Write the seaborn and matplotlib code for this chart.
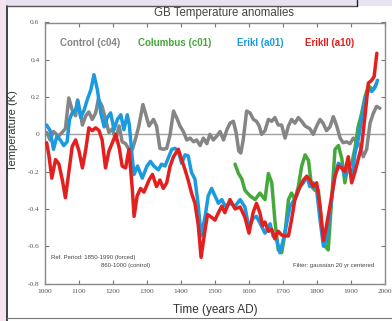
import matplotlib
matplotlib.use("Agg")
import matplotlib.pyplot as plt
import seaborn as sns
import pandas as pd
from matplotlib.patches import Rectangle
from matplotlib.lines import Line2D

# ---------------- data ----------------
series_names = ["Control (c04)", "Columbus (c01)", "ErikI (a01)", "ErikII (a10)"]
series_colors = ["#858585", "#45a83a", "#1a9be0", "#e3201e"]

control_years = [1005, 1015, 1025, 1040, 1050, 1060, 1070, 1080, 1090, 1096, 1105, 1110, 1120, 1129,
                 1139, 1149, 1157, 1168, 1178, 1188, 1198, 1208, 1218, 1227, 1237, 1247, 1257, 1267,
                 1276, 1288, 1296, 1306, 1319, 1328, 1338, 1348, 1358, 1368, 1378, 1387, 1397, 1407,
                 1417, 1427, 1437, 1446, 1456, 1466, 1476, 1485, 1495, 1505, 1515, 1525, 1535, 1544,
                 1554, 1562, 1570, 1576, 1583, 1593, 1603, 1613, 1622, 1630, 1637, 1647, 1657, 1667,
                 1676, 1686, 1696, 1706, 1716, 1725, 1735, 1745, 1755, 1765, 1779, 1789, 1799, 1809,
                 1818, 1828, 1838, 1848, 1858, 1868, 1877, 1887, 1897, 1907, 1917, 1926, 1936, 1946,
                 1956, 1965, 1975, 1985]
control_vals = [0.01, -0.03, 0.015, -0.01, 0.01, 0.03, 0.195, 0.13, 0.10, 0.185, 0.105, 0.05, 0.10, 0.12,
                0.08, 0.115, 0.19, 0.15, 0.08, 0.01, 0.03, -0.03, 0.045, -0.04, -0.05, -0.08, -0.08, -0.02,
                0.045, 0.16, 0.11, 0.045, 0.08, 0.045, -0.075, -0.08, -0.075, 0.0, 0.125, 0.09, 0.045, 0.015,
                -0.03, -0.02, -0.04, -0.03, -0.06, -0.02, -0.05, 0.0, -0.03, -0.01, 0.015, -0.03, 0.025, 0.06,
                0.07, 0.01, -0.09, -0.10, -0.03, 0.125, 0.115, 0.08, 0.07, 0.045, 0.0, 0.02, 0.08, 0.07,
                0.09, 0.05, 0.05, -0.02, 0.045, 0.08, 0.06, 0.09, 0.07, 0.045, 0.03, 0.0, 0.045, 0.08,
                0.06, 0.02, 0.04, 0.095, 0.045, -0.02, -0.045, -0.04, -0.05, -0.02, -0.04, -0.06, -0.12, -0.08,
                0.06, 0.11, 0.15, 0.14]

columbus_years = [1559, 1569, 1579, 1588, 1603, 1618, 1632, 1647, 1657, 1667, 1676, 1686, 1696, 1706,
                  1716, 1725, 1735, 1745, 1755, 1765, 1775, 1784, 1794, 1804, 1814, 1824, 1833, 1843,
                  1853, 1863, 1873, 1882, 1892, 1902, 1912, 1921, 1931, 1941, 1951, 1965, 1975]
columbus_vals = [-0.16, -0.21, -0.24, -0.30, -0.33, -0.35, -0.315, -0.35, -0.21, -0.26, -0.46, -0.62, -0.635, -0.53,
                 -0.35, -0.315, -0.35, -0.28, -0.17, -0.11, -0.14, -0.28, -0.30, -0.30, -0.49, -0.60, -0.62, -0.35,
                 -0.08, -0.06, -0.13, -0.26, -0.155, -0.16, -0.07, 0.04, 0.11, 0.20, 0.26, 0.24, 0.27]

erik1_years = [1005, 1015, 1025, 1035, 1045, 1055, 1065, 1072, 1080, 1090, 1096, 1105, 1115, 1125, 1135,
               1144, 1154, 1164, 1174, 1183, 1193, 1203, 1213, 1223, 1232, 1242, 1248, 1257, 1262, 1272,
               1286, 1300, 1310, 1320, 1333, 1343, 1353, 1363, 1373, 1382, 1392, 1402, 1412, 1421, 1431,
               1441, 1451, 1459, 1471, 1480, 1490, 1500, 1510, 1520, 1530, 1544, 1559, 1574, 1588, 1600,
               1612, 1622, 1632, 1647, 1662, 1671, 1681, 1691, 1701, 1711, 1721, 1730, 1740, 1750, 1760,
               1770, 1779, 1789, 1799, 1809, 1819, 1828, 1838, 1853, 1863, 1873, 1882, 1892, 1902, 1912,
               1921, 1931, 1941, 1951, 1961, 1970, 1978]
erik1_vals = [0.05, 0.02, -0.08, -0.01, -0.03, -0.06, -0.04, 0.08, 0.115, 0.13, 0.18, 0.09, 0.13, 0.19, 0.24,
              0.32, 0.24, 0.115, 0.04, 0.09, 0.115, 0.025, 0.08, 0.105, 0.025, 0.105, 0.05, -0.135, -0.215, -0.17,
              -0.235, -0.17, -0.145, -0.17, -0.19, -0.16, -0.17, -0.125, -0.08, -0.075, -0.09, -0.155, -0.11, -0.115, -0.205,
              -0.24, -0.385, -0.545, -0.44, -0.33, -0.29, -0.33, -0.37, -0.35, -0.385, -0.37, -0.385, -0.35, -0.39, -0.50,
              -0.45, -0.44, -0.475, -0.53, -0.48, -0.545, -0.565, -0.635, -0.565, -0.475, -0.385, -0.36, -0.33, -0.28, -0.26,
              -0.225, -0.28, -0.26, -0.30, -0.46, -0.60, -0.565, -0.42, -0.21, -0.155, -0.17, -0.225, -0.155, -0.24, -0.10,
              -0.03, 0.08, 0.185, 0.24, 0.23, 0.25, 0.29]

erik2_years = [1005, 1012, 1020, 1031, 1041, 1051, 1060, 1071, 1080, 1090, 1100, 1110, 1120, 1129, 1139,
               1149, 1159, 1168, 1178, 1188, 1198, 1208, 1218, 1227, 1237, 1247, 1257, 1262, 1271, 1281,
               1291, 1306, 1316, 1328, 1338, 1348, 1358, 1368, 1378, 1392, 1402, 1412, 1421, 1431, 1441,
               1451, 1459, 1471, 1478, 1490, 1500, 1510, 1520, 1529, 1544, 1559, 1574, 1588, 1600, 1612,
               1622, 1632, 1640, 1647, 1657, 1667, 1676, 1686, 1696, 1706, 1716, 1725, 1735, 1745, 1760,
               1770, 1779, 1789, 1799, 1809, 1819, 1828, 1838, 1853, 1863, 1873, 1882, 1892, 1902, 1912,
               1921, 1931, 1941, 1951, 1961, 1968, 1976]
erik2_vals = [-0.045, -0.12, -0.235, -0.135, -0.16, -0.245, -0.34, -0.19, -0.065, -0.03, -0.09, -0.18, -0.08, 0.035, 0.02,
              0.035, 0.02, -0.03, -0.18, -0.09, -0.045, 0.0, -0.07, -0.17, -0.18, -0.08, -0.30, -0.44, -0.33, -0.29,
              -0.31, -0.245, -0.215, -0.28, -0.245, -0.29, -0.26, -0.17, -0.12, -0.08, -0.135, -0.19, -0.245, -0.315, -0.37,
              -0.49, -0.66, -0.51, -0.43, -0.445, -0.46, -0.42, -0.385, -0.42, -0.35, -0.40, -0.39, -0.445, -0.53, -0.42,
              -0.37, -0.42, -0.49, -0.47, -0.52, -0.51, -0.56, -0.52, -0.54, -0.545, -0.545, -0.46, -0.35, -0.30, -0.245,
              -0.225, -0.245, -0.28, -0.26, -0.385, -0.57, -0.49, -0.385, -0.225, -0.17, -0.18, -0.20, -0.12, -0.26, -0.20,
              -0.135, -0.065, 0.095, 0.275, 0.29, 0.31, 0.435]

x_ticks = [1000, 1100, 1200, 1300, 1400, 1500, 1600, 1700, 1800, 1900, 2000]
y_ticks = [-0.8, -0.6, -0.4, -0.2, 0, 0.2, 0.4, 0.6]
y_tick_labels = ["-0.8", "-0.6", "-0.4", "-0.2", "0", "0.2", "0.4", "0.6"]

# ---------------- build table ----------------
frames = []
for name, yrs, vals in zip(series_names,
                           [control_years, columbus_years, erik1_years, erik2_years],
                           [control_vals, columbus_vals, erik1_vals, erik2_vals]):
    frames.append(pd.DataFrame({"year": yrs, "temp": vals, "run": name}))
df = pd.concat(frames, ignore_index=True)

# ---------------- figure ----------------
sns.set_theme(style="white")
plt.rcParams["font.family"] = ["Liberation Sans", "DejaVu Sans"]

W, H = 392, 321
fig = plt.figure(figsize=(W / 100, H / 100), dpi=100)
fig.patch.set_facecolor("white")

# screenshot frame decorations
fig.patches.append(Rectangle((0, 1 - 6 / H), 1, 6 / H, transform=fig.transFigure,
                             facecolor="#e9e2f1", edgecolor="none", zorder=0))
fig.patches.append(Rectangle((0, 0), 6 / W, 1, transform=fig.transFigure,
                             facecolor="#f4e6f0", edgecolor="none", zorder=0))
fig.lines.append(Line2D([6.5 / W, 6.5 / W], [0, 1 - 6 / H], transform=fig.transFigure,
                        color="#222222", lw=1.2))
fig.lines.append(Line2D([6.5 / W, 357 / W], [1 - 6 / H, 1 - 6 / H], transform=fig.transFigure,
                        color="#555555", lw=1.0))
fig.lines.append(Line2D([357 / W, 357 / W], [1 - 6 / H, 1], transform=fig.transFigure,
                        color="#222222", lw=1.0))
fig.lines.append(Line2D([6.5 / W, 1], [1 - 318 / H, 1 - 318 / H], transform=fig.transFigure,
                        color="#777777", lw=0.8))

ax = fig.add_axes([45 / W, 1 - 283.5 / H, 340 / W, 261 / H])
ax.set_facecolor("white")

ax.axhline(0, color="#a0a0a0", lw=1.0, zorder=1)

sns.lineplot(data=df, x="year", y="temp", hue="run", hue_order=series_names,
             palette=dict(zip(series_names, series_colors)), estimator=None, sort=False,
             linewidth=2.5, legend=False, ax=ax, zorder=3)

ax.set_xlim(1000, 2000)
ax.set_ylim(-0.8, 0.6)
ax.set_xticks(x_ticks)
ax.set_yticks(y_ticks)
ax.set_xticklabels([str(t) for t in x_ticks], family="Liberation Serif", fontsize=5.3, color="#555555")
ax.set_yticklabels(y_tick_labels, family="Liberation Serif", fontsize=5.3, color="#555555")
ax.tick_params(direction="in", length=3, width=0.8, color="#777777",
               top=True, right=True, bottom=True, left=True, pad=4)
for s in ax.spines.values():
    s.set_color("#8a8a8a")
    s.set_linewidth(1.0)
ax.set_xlabel("")
ax.set_ylabel("")

# titles and labels
fig.text(224 / W, 1 - 13 / H, "GB Temperature anomalies", ha="center", va="center",
         fontsize=8.3, color="#444444")
fig.text(215 / W, 1 - 310 / H, "Time (years AD)", ha="center", va="center",
         fontsize=8.5, color="#333333")
fig.text(13 / W, 1 - 131 / H, "Temperature (K)", ha="center", va="center", rotation=90,
         fontsize=8, color="#333333")

# legend-like coloured labels
legend_x = [60, 138, 237, 305]
for name, color, lx in zip(series_names, series_colors, legend_x):
    fig.text(lx / W, 1 - 43 / H, name, ha="left", va="center", fontsize=7,
             fontweight="bold", color=color)

# annotations
fig.text(51 / W, 1 - 257 / H, "Ref. Period: 1850-1990 (forced)", ha="left", va="center",
         fontsize=4.3, color="#444444")
fig.text(150 / W, 1 - 266 / H, "860-1000 (control)", ha="right", va="center",
         fontsize=4.3, color="#444444")
fig.text(374 / W, 1 - 266 / H, "Filter: gaussian 20 yr centered", ha="right", va="center",
         fontsize=4.3, color="#444444")

fig.savefig("out.png", dpi=100, facecolor="white")
